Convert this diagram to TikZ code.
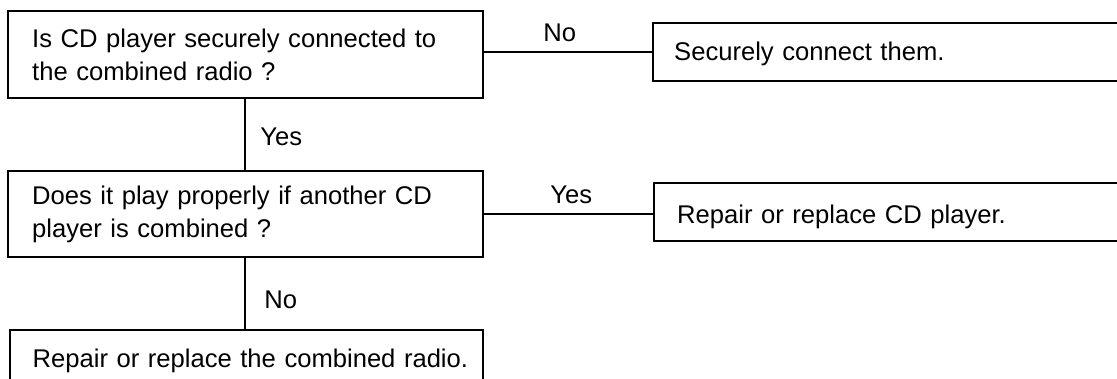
\documentclass[tikz,border=0pt]{standalone}
\usepackage{fontspec}
\setmainfont{Liberation Sans}
\begin{document}
\begin{tikzpicture}[x=0.5pt,y=-0.5pt,
  every node/.style={font=\fontsize{12.8pt}{16.5pt}\selectfont},
  box/.style={draw, line width=1.2pt, rectangle, anchor=north west,
    align=left, inner xsep=12pt, inner ysep=0pt},
  link/.style={line width=1.2pt},
  tag/.style={inner sep=0pt, anchor=base west}]
\useasboundingbox (0,0) rectangle (1117,379);
\clip (0,0) rectangle (1117,379);

% question boxes on the left
\node[box, minimum width=237.5pt, minimum height=43.5pt, text width=213.5pt]
  (q1) at (7,10) {Is CD player securely connected to\\the combined radio ?};
\node[box, minimum width=237.5pt, minimum height=43pt, text width=213.5pt]
  (q2) at (7,170) {Does it play properly if another CD\\player is combined ?};
\node[box, minimum width=236.5pt, minimum height=30.5pt, text width=214pt,
  inner xsep=11.25pt]
  (q3) at (9,329) {\mbox{Repair or replace the combined radio.}};

% remedy boxes on the right (running past the edge)
\node[box, minimum width=239pt, minimum height=29pt, text width=218pt,
  inner xsep=10.5pt, text height=9pt, text depth=1pt]
  (r1) at (652,22) {Securely connect them.};
\node[box, minimum width=238.5pt, minimum height=29pt, text width=215.5pt,
  inner xsep=11.5pt, text height=12pt, text depth=0.5pt]
  (r2) at (653,182) {Repair or replace CD player.};

% connectors
\draw[link] (r1.west -| q1.east) -- (r1.west);
\draw[link] (q2.east) -- (q2.east -| r2.west);
\draw[link] ([xshift=119pt]q1.south west) -- ([xshift=119pt]q1.south west |- q2.north);
\draw[link] ([xshift=119pt]q2.south west) -- ([xshift=119pt]q2.south west |- q3.north);

% answer labels
\node[tag] (no1)  at (543,42)  {No};
\node[tag] (yes1) at (260,146) {Yes};
\node[tag] (yes2) at (550,204) {Yes};
\node[tag] (no2)  at (264,308) {No};
\end{tikzpicture}
\end{document}
